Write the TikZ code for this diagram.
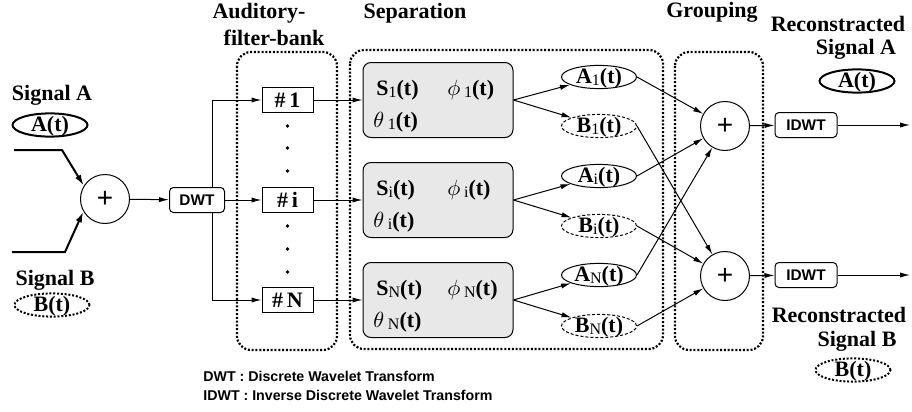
\documentclass[tikz,border=0pt]{standalone}
\usepackage{fontspec}
\setmainfont{Liberation Serif}
\setsansfont{Liberation Sans}
\usetikzlibrary{arrows.meta,shapes.geometric}

% small, lowered index used in the component labels
\newcommand{\lowsub}[1]{\raisebox{-1.3pt}{\fontsize{8}{8}\selectfont\mdseries #1}}

\tikzset{
  x=0.5pt, y=-0.5pt,
  arr/.style={-{Latex[length=5pt,width=2.6pt]}, line width=0.5pt},
  thickarr/.style={-{Latex[length=5.5pt,width=3.2pt]}, line width=1pt},
  container/.style={line width=1.1pt, dash pattern=on 1pt off 0.9pt, rounded corners=7pt},
  title/.style={font=\fontsize{11}{13}\selectfont\bfseries, inner sep=0pt},
  lab/.style={font=\fontsize{11}{13}\selectfont\bfseries, inner sep=0pt, anchor=base west},
  sig/.style={ellipse, draw, line width=1pt, inner sep=0pt, minimum width=37.5pt,
    minimum height=10.5pt, text height=7.2pt, text depth=1pt,
    font=\fontsize{11}{13}\selectfont\bfseries},
  sigdot/.style={sig, dash pattern=on 1pt off 0.9pt},
  comp/.style={ellipse, draw, line width=0.5pt, inner sep=0pt, minimum width=37.5pt,
    minimum height=11pt, text height=7.2pt, text depth=1pt,
    font=\fontsize{11}{13}\selectfont\bfseries},
  compB/.style={comp, dash pattern=on 1.5pt off 1pt},
  filt/.style={draw, line width=0.5pt, minimum width=25.5pt, minimum height=12.5pt,
    inner sep=0pt, font=\fontsize{11}{13}\selectfont\bfseries},
  sepbox/.style={draw, line width=0.5pt, fill=gray!18, rounded corners=4pt,
    minimum width=75pt, minimum height=37.5pt},
  wbox/.style={draw, line width=0.5pt, rounded corners=2pt, minimum height=12.5pt,
    inner sep=0pt, font=\sffamily\bfseries\fontsize{7.7}{9}\selectfont},
  adder/.style={circle, draw, line width=0.5pt, minimum size=24.5pt, inner sep=0pt,
    font=\sffamily\fontsize{14}{14}\selectfont},
  legend/.style={anchor=west, inner sep=0pt, font=\sffamily\bfseries\fontsize{7.1}{8}\selectfont}
}

\begin{document}
\begin{tikzpicture}
\useasboundingbox (0,0) rectangle (912,412);

% stage titles
\node[title] (tAud) at (259,13) {Auditory-};
\node[title] (tFil) at (274,38) {filter-bank};
\node[title] (tSep) at (415,13) {Separation};
\node[title] (tGrp) at (712,12) {Grouping};

% input signals
\node[title] (tSA) at (52,95) {Signal A};
\node[sig] (inA) at (50,125) {A(t)};
\node[title] (tSB) at (55,280) {Signal B};
\node[sigdot] (inB) at (52,305) {B(t)};

% reconstructed outputs
\node[title] (tRA1) at (838,24) {Reconstracted};
\node[title] (tRA2) at (856,49) {Signal A};
\node[sig] (outA) at (857,81) {A(t)};
\node[title] (tRB1) at (839,315) {Reconstracted};
\node[title] (tRB2) at (857,341) {Signal B};
\node[sigdot] (outB) at (853,370) {B(t)};

% mixing
\coordinate (a0) at (14,150);
\coordinate (ac) at (62,150);
\coordinate (b0) at (12,252);
\coordinate (bc) at (65,252);
\node[adder] (mix) at (105,199) {+};
\draw[thickarr] (a0) -- (ac) -- (mix.148);
\draw[thickarr] (b0) -- (bc) -- (mix.210);

\node[wbox, minimum width=27.5pt] (dwt) at (197,200) {DWT};
\draw[arr] (mix) -- (dwt);

% group frames
\draw[container] (237,52) rectangle (337,350);
\draw[container] (350,50) rectangle (663,349);
\draw[container] (675,52) rectangle (763,350);

% auditory filter bank
\coordinate (split) at (212,200);
\node[filt] (f1) at (287.5,100) {\#\,1};
\node[filt] (fi) at (287.5,200) {\#\,i};
\node[filt] (fN) at (287.5,300) {\#\,N};
\draw[arr] (dwt.north -| split) |- (f1);
\draw[arr] (dwt) -- (fi);
\draw[arr] (dwt.south -| split) |- (fN);
\foreach \yy in {126,148,171,226,249,272}
  \fill (287.5,\yy) circle (0.9pt);

% separation blocks
\node[sepbox] (s1) at (438,100) {};
\node[sepbox] (si) at (438,200) {};
\node[sepbox] (sN) at (438,300) {};
\draw[arr] (f1) -- (s1);
\draw[arr] (fi) -- (si);
\draw[arr] (fN) -- (sN);

\node[lab] (s1S) at (376,95) {S\lowsub{1}(t)};
\node[lab] (s1P) at (447,95) {$\phi$\,\lowsub{1}(t)};
\node[lab] (s1T) at (373,127) {$\theta$\,\lowsub{1}(t)};
\node[lab] (siS) at (376,195) {S\lowsub{i}(t)};
\node[lab] (siP) at (447,195) {$\phi$\,\lowsub{i}(t)};
\node[lab] (siT) at (373,227) {$\theta$\,\lowsub{i}(t)};
\node[lab] (sNS) at (376,295) {S\lowsub{N}(t)};
\node[lab] (sNP) at (447,295) {$\phi$\,\lowsub{N}(t)};
\node[lab] (sNT) at (373,327) {$\theta$\,\lowsub{N}(t)};

% separated components
\node[comp]  (a1) at (599,77)  {A\lowsub{1}(t)};
\node[compB] (b1) at (599,126) {B\lowsub{1}(t)};
\node[comp]  (ai) at (599,176) {A\lowsub{i}(t)};
\node[compB] (bi) at (599,226) {B\lowsub{i}(t)};
\node[comp]  (aN) at (599,275) {A\lowsub{N}(t)};
\node[compB] (bN) at (599,326) {B\lowsub{N}(t)};
\draw[arr] (s1.east) -- (a1);
\draw[arr] (s1.east) -- (b1);
\draw[arr] (si.east) -- (ai);
\draw[arr] (si.east) -- (bi);
\draw[arr] (sN.east) -- (aN);
\draw[arr] (sN.east) -- (bN);

% grouping
\node[adder] (p1) at (725,126) {+};
\node[adder] (p2) at (725,276) {+};
\draw[arr] (a1.east) -- (p1);
\draw[arr] (ai.east) -- (p1);
\draw[arr] (aN.east) -- (p1);
\draw[arr] (b1.east) -- (p2);
\draw[arr] (bi.east) -- (p2);
\draw[arr] (bN.east) -- (p2);

% inverse transform
\node[wbox, minimum width=31pt] (idwt1) at (806,125) {IDWT};
\node[wbox, minimum width=31pt] (idwt2) at (806,275) {IDWT};
\coordinate (endA) at (910,125);
\coordinate (endB) at (910,275);
\draw[arr] (p1) -- (idwt1);
\draw[arr] (p2) -- (idwt2);
\draw[arr] (idwt1) -- (endA);
\draw[arr] (idwt2) -- (endB);

% legend
\node[legend] (lg1) at (203,376) {DWT : Discrete Wavelet Transform};
\node[legend] (lg2) at (203,395) {IDWT : Inverse Discrete Wavelet Transform};
\end{tikzpicture}
\end{document}
